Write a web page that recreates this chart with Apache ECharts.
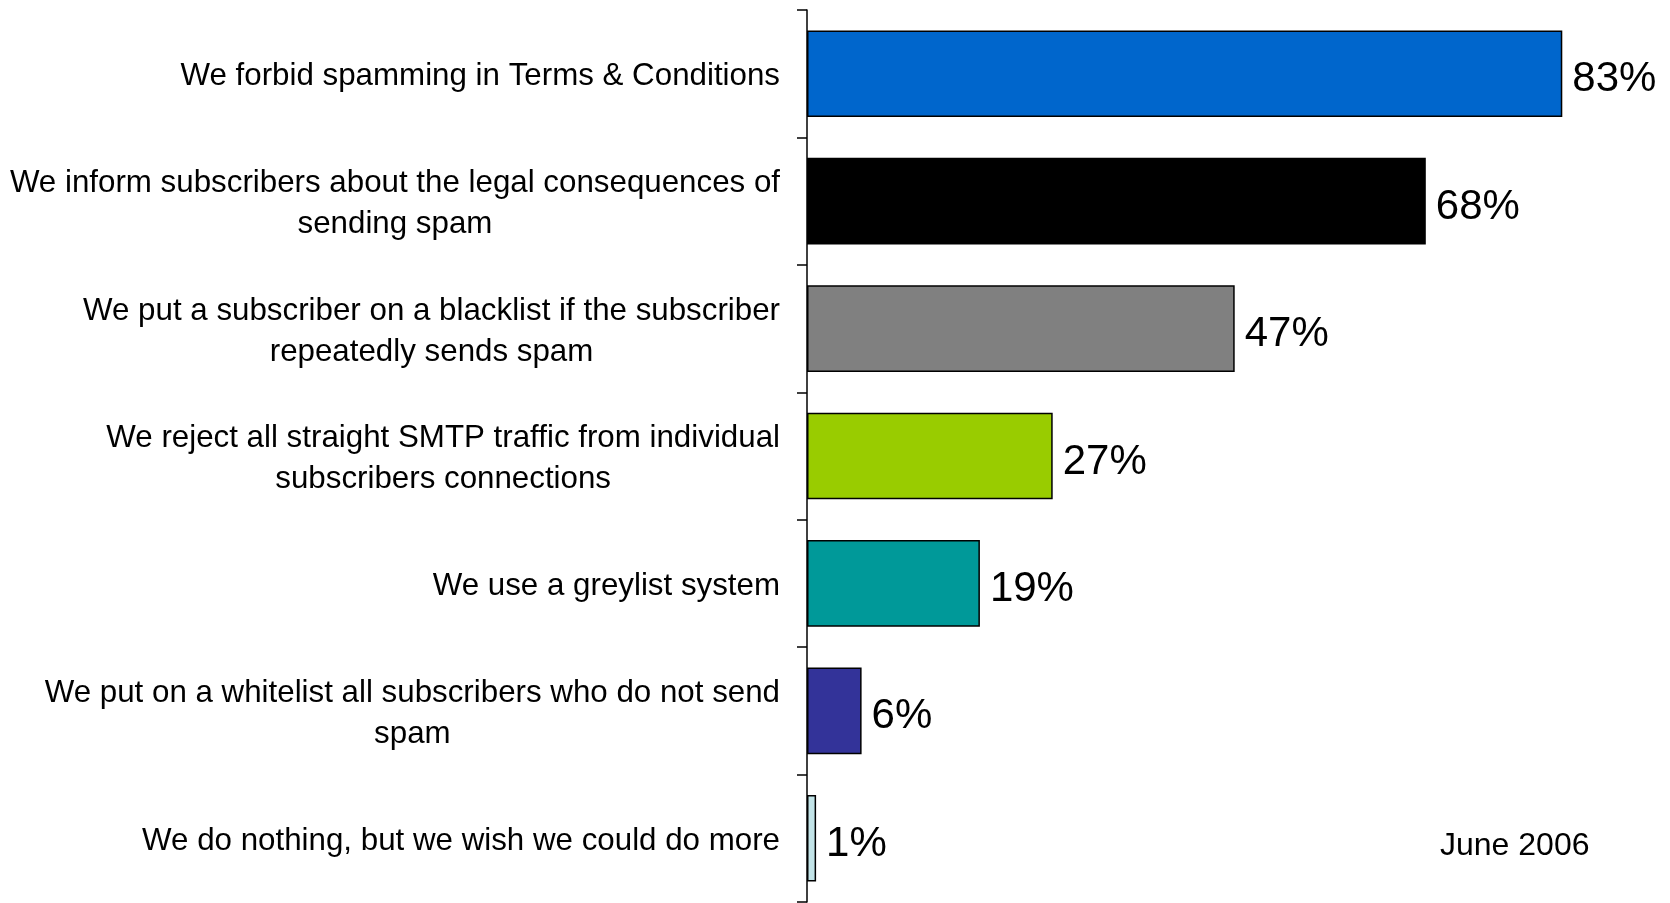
<!DOCTYPE html>
<html>
<head>
<meta charset="utf-8">
<script src="https://cdn.jsdelivr.net/npm/echarts@6/dist/echarts.min.js"></script>
<style>
html,body{margin:0;padding:0;background:#fff;}
#chart{width:1670px;height:903px;}
</style>
</head>
<body>
<div id="chart"></div>
<script>
var categories = [
  "We forbid spamming in Terms & Conditions",
  "We inform subscribers about the legal consequences of\nsending spam",
  "We put a subscriber on a blacklist if the subscriber\nrepeatedly sends spam",
  "We reject all straight SMTP traffic from individual\nsubscribers connections",
  "We use a greylist system",
  "We put on a whitelist all subscribers who do not send\nspam",
  "We do nothing, but we wish we could do more"
];
var values = [83, 68, 47, 27, 19, 6, 1];
var barColors = ["#0066CC", "#000000", "#808080", "#99CC00", "#009999", "#333399", "#C2E4E8"];
var dateNote = "June 2006";

var chart = echarts.init(document.getElementById('chart'));
var FONT = '"Liberation Sans", Arial, sans-serif';
chart.setOption({
  animation: false,
  backgroundColor: '#ffffff',
  title: {
    text: dateNote,
    left: 1440,
    top: 830,
    padding: 0,
    textStyle: { fontFamily: FONT, fontSize: 32, fontWeight: 'normal', color: '#000' }
  },
  grid: { left: 807, right: 44, top: 10, bottom: 1, containLabel: false, outerBoundsMode: 'none' },
  xAxis: {
    type: 'value', min: 0, max: 90,
    show: false
  },
  yAxis: {
    type: 'category',
    inverse: true,
    data: categories,
    axisLine: { show: true, lineStyle: { color: '#000', width: 1.5 } },
    axisTick: { show: true, length: 10, lineStyle: { color: '#000', width: 1.5 } },
    axisLabel: {
      margin: 27,
      align: 'right',
      padding: [6, 0, 0, 0],
      fontFamily: FONT,
      fontSize: 31.3,
      color: '#000',
      lineHeight: 41,
      formatter: function (v) {
        return v.split('\n').map(function (l) { return '{c|' + l + '}'; }).join('\n');
      },
      rich: { c: { align: 'center', fontFamily: FONT, fontSize: 31.3, lineHeight: 41, color: '#000' } }
    },
    splitLine: { show: false }
  },
  series: [{
    type: 'bar',
    data: values.map(function (v, i) {
      return { value: v, itemStyle: { color: barColors[i] } };
    }),
    barCategoryGap: '32%',
    itemStyle: { borderColor: '#000', borderWidth: 1.5 },
    label: {
      show: true,
      position: 'right',
      distance: 10,
      offset: [0, 6],
      formatter: '{c}%',
      fontFamily: FONT,
      fontSize: 42,
      color: '#000'
    }
  }]
});
</script>
</body>
</html>
